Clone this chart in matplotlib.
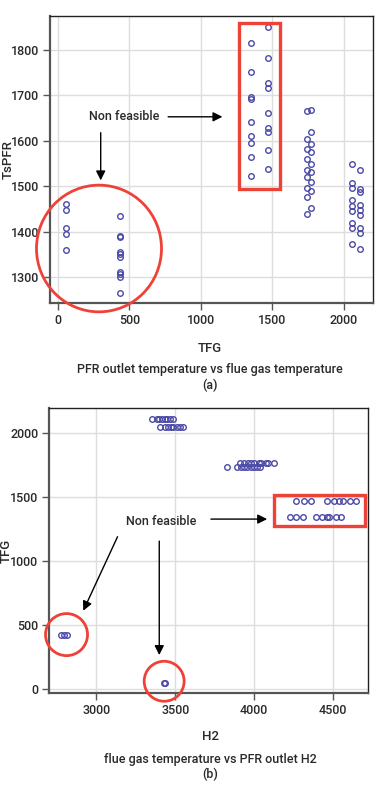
import matplotlib
matplotlib.use('Agg')
import matplotlib.pyplot as plt
from matplotlib.patches import Rectangle, Ellipse

plt.rcParams['font.family'] = ['Roboto', 'DejaVu Sans']
plt.rcParams['font.weight'] = 'medium'

# (a) TsPFR vs TFG, one list of TsPFR values per TFG column
tfg_cols = [55, 436, 1349, 1473, 1743, 1770, 2061, 2116]
tspfr_cols = [
    [1461, 1448, 1409, 1396, 1359],
    [1435, 1390, 1389, 1356, 1350, 1344, 1311, 1306, 1300, 1264],
    [1815, 1751, 1696, 1693, 1641, 1610, 1596, 1564, 1522],
    [1850, 1783, 1727, 1716, 1662, 1629, 1619, 1580, 1538],
    [1666, 1604, 1581, 1560, 1535, 1520, 1496, 1476, 1440],
    [1668, 1619, 1594, 1576, 1550, 1532, 1509, 1490, 1452],
    [1548, 1507, 1497, 1469, 1456, 1445, 1420, 1409, 1372],
    [1536, 1495, 1487, 1458, 1447, 1436, 1409, 1398, 1362],
]

# (b) TFG vs H2, one list of H2 values per TFG row
tfg_rows = [2112, 2050, 1765, 1736, 1470, 1343, 425, 47]
h2_rows = [
    [3352, 3382, 3399, 3416, 3433, 3450, 3467, 3484],
    [3403, 3437, 3456, 3471, 3487, 3509, 3530, 3551],
    [3911, 3937, 3958, 3980, 4001, 4030, 4043, 4072, 4089, 4127],
    [3829, 3892, 3914, 3935, 3956, 3977, 3998, 4019, 4036],
    [4264, 4314, 4361, 4458, 4504, 4538, 4563, 4605, 4644],
    [4226, 4264, 4310, 4391, 4427, 4458, 4475, 4517, 4551],
    [2777, 2798, 2815],
    [3428, 3436],
]

DOT = '#4a4aa6'
RED = '#ee4238'
TXT = '#2a2a2a'


def style_axes(ax):
    ax.grid(True, color='#dddddd', linewidth=1)
    ax.set_axisbelow(True)
    for side in ['top', 'right']:
        ax.spines[side].set_linewidth(1)
        ax.spines[side].set_color('#222222')
    for side in ['left', 'bottom']:
        ax.spines[side].set_linewidth(1.6)
        ax.spines[side].set_color('#555555')
    ax.tick_params(direction='out', length=5, width=1, color='#555555',
                   labelsize=9, labelcolor=TXT, pad=3)


def arrow(ax, start, tip):
    ax.annotate('', xy=tip, xytext=start,
                arrowprops=dict(arrowstyle='-|>', color='black', lw=1,
                                mutation_scale=14, shrinkA=0, shrinkB=0),
                annotation_clip=False)


fig = plt.figure(figsize=(3.75, 7.87), dpi=100)

# ---- (a)
ax1 = fig.add_axes([0.1333, 0.615, 0.8614, 0.3647])
for x, ys in zip(tfg_cols, tspfr_cols):
    ax1.plot([x] * len(ys), ys, 'o', mfc='none', mec=DOT, ms=4, mew=1)
ax1.set_xlim(-55, 2206)
ax1.set_ylim(1243, 1875)
ax1.set_xticks([0, 500, 1000, 1500, 2000])
ax1.set_yticks([1300, 1400, 1500, 1600, 1700, 1800])
style_axes(ax1)

ax1.add_patch(Rectangle((1267, 1495), 290, 365, fill=False, ec=RED, lw=2.4,
                        clip_on=False, zorder=5))
ax1.add_patch(Ellipse((288, 1363), 875, 279, fill=False, ec=RED, lw=2,
                      clip_on=False, zorder=5))
ax1.text(462, 1653, 'Non feasible', ha='center', va='center', fontsize=9,
         color=TXT)
arrow(ax1, (772, 1653), (1152, 1653))
arrow(ax1, (300, 1618), (300, 1513))

fig.text(0.56, 1 - 348 / 787, 'TFG', ha='center', va='center', fontsize=9.5,
         color=TXT)
fig.text(0.56, 1 - 369 / 787, 'PFR outlet temperature vs flue gas temperature',
         ha='center', va='center', fontsize=9, color=TXT)
fig.text(0.56, 1 - 385 / 787, '(a)', ha='center', va='center', fontsize=9,
         color=TXT)
fig.text(8 / 375, 1 - 160 / 787, 'TsPFR', ha='center', va='center',
         rotation=90, fontsize=9.5, color=TXT)

# ---- (b)
ax2 = fig.add_axes([0.1315, 0.1191, 0.8505, 0.3621])
for y, xs in zip(tfg_rows, h2_rows):
    ax2.plot(xs, [y] * len(xs), 'o', mfc='none', mec=DOT, ms=4, mew=1)
ax2.set_xlim(2703, 4722)
ax2.set_ylim(-34, 2196)
ax2.set_xticks([3000, 3500, 4000, 4500])
ax2.set_yticks([0, 500, 1000, 1500, 2000])
style_axes(ax2)

ax2.add_patch(Rectangle((4125, 1275), 579, 242, fill=False, ec=RED, lw=2.4,
                        clip_on=False, zorder=5))
ax2.add_patch(Ellipse((2812, 425), 266, 329, fill=False, ec=RED, lw=2,
                      clip_on=False, zorder=5))
ax2.add_patch(Ellipse((3430, 60), 253, 313, fill=False, ec=RED, lw=2,
                      clip_on=False, zorder=5))
ax2.text(3414, 1314, 'Non feasible', ha='center', va='center', fontsize=9,
         color=TXT)
arrow(ax2, (3726, 1329), (4082, 1329))
arrow(ax2, (3135, 1191), (2918, 612))
arrow(ax2, (3399, 1157), (3399, 265))

fig.text(0.56, 1 - 737 / 787, 'H2', ha='center', va='center', fontsize=9.5,
         color=TXT)
fig.text(0.56, 1 - 759 / 787, 'flue gas temperature vs PFR outlet H2',
         ha='center', va='center', fontsize=9, color=TXT)
fig.text(0.56, 1 - 774 / 787, '(b)', ha='center', va='center', fontsize=9,
         color=TXT)
fig.text(6 / 375, 1 - 551 / 787, 'TFG', ha='center', va='center',
         rotation=90, fontsize=9.5, color=TXT)

fig.savefig('out.png', dpi=100)
